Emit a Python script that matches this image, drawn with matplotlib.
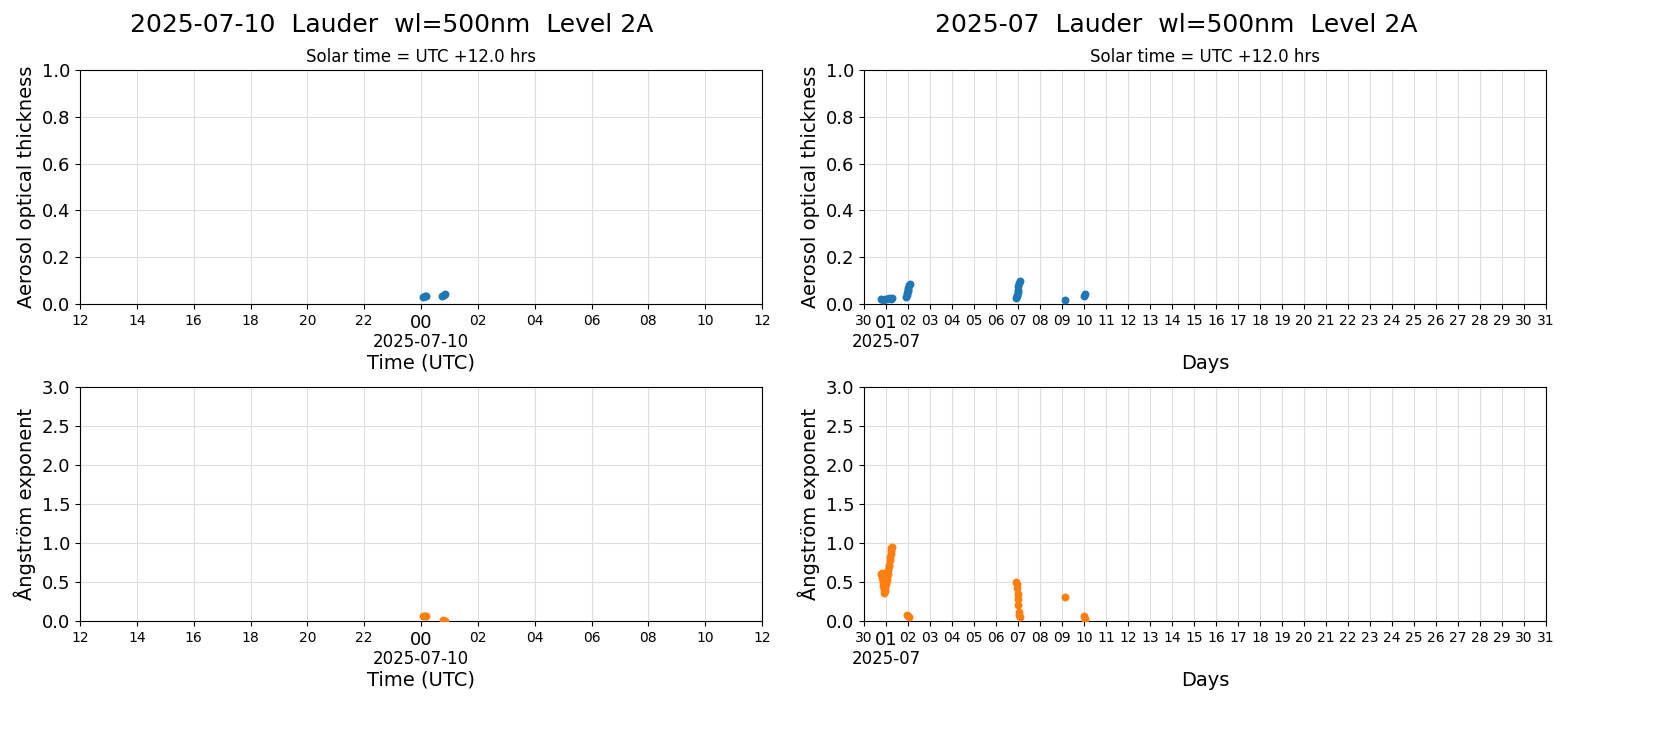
import numpy as np
import pandas as pd
import matplotlib
matplotlib.use('Agg')
import matplotlib.pyplot as plt

# ---- data ----
day_aod_time = ['2025-07-10 00:05', '2025-07-10 00:08', '2025-07-10 00:11',
                '2025-07-10 00:45', '2025-07-10 00:48', '2025-07-10 00:51']
day_aod = [0.030, 0.033, 0.035, 0.036, 0.039, 0.041]
day_ang_time = ['2025-07-10 00:05', '2025-07-10 00:08', '2025-07-10 00:11',
                '2025-07-10 00:46', '2025-07-10 00:50']
day_ang = [0.06, 0.07, 0.065, 0.01, 0.005]

mon_aod_time = ['2025-06-30 19:00', '2025-06-30 21:00', '2025-06-30 23:00',
                '2025-07-01 01:00', '2025-07-01 03:00', '2025-07-01 05:00', '2025-07-01 07:00',
                '2025-07-01 22:00', '2025-07-01 22:30', '2025-07-01 23:00', '2025-07-01 23:30',
                '2025-07-02 00:00', '2025-07-02 00:30', '2025-07-02 01:00', '2025-07-02 02:00',
                '2025-07-06 22:00', '2025-07-06 22:30', '2025-07-06 23:00', '2025-07-06 23:30',
                '2025-07-07 00:00', '2025-07-07 00:30', '2025-07-07 01:00', '2025-07-07 02:00',
                '2025-07-09 03:00',
                '2025-07-10 00:05', '2025-07-10 00:50']
mon_aod = [0.02, 0.018, 0.022, 0.02, 0.024, 0.022, 0.025,
           0.03, 0.038, 0.045, 0.055, 0.06, 0.07, 0.08, 0.085,
           0.025, 0.035, 0.04, 0.05, 0.06, 0.075, 0.09, 0.10,
           0.015,
           0.035, 0.041]
mon_ang_time = ['2025-06-30 19:00', '2025-06-30 19:30', '2025-06-30 20:00', '2025-06-30 20:30',
                '2025-06-30 21:00', '2025-06-30 21:30', '2025-06-30 22:00', '2025-06-30 22:30',
                '2025-06-30 23:00', '2025-06-30 23:30', '2025-07-01 00:00', '2025-07-01 00:30',
                '2025-07-01 01:00', '2025-07-01 01:30', '2025-07-01 02:00', '2025-07-01 02:30',
                '2025-07-01 03:00', '2025-07-01 03:30', '2025-07-01 04:00', '2025-07-01 04:30',
                '2025-07-01 05:00', '2025-07-01 05:30', '2025-07-01 06:00', '2025-07-01 06:30',
                '2025-07-01 23:00', '2025-07-02 00:00', '2025-07-02 01:00',
                '2025-07-06 22:00', '2025-07-06 22:30', '2025-07-06 23:00', '2025-07-06 23:30',
                '2025-07-07 00:00', '2025-07-07 00:30', '2025-07-07 01:00', '2025-07-07 01:30',
                '2025-07-07 02:00',
                '2025-07-09 03:00',
                '2025-07-10 00:05', '2025-07-10 00:50']
mon_ang = [0.6, 0.62, 0.55, 0.5, 0.45, 0.4, 0.36, 0.38, 0.42, 0.48, 0.5, 0.55,
           0.52, 0.58, 0.6, 0.65, 0.7, 0.72, 0.78, 0.82, 0.86, 0.9, 0.93, 0.95,
           0.08, 0.06, 0.05,
           0.5, 0.47, 0.42, 0.35, 0.28, 0.2, 0.12, 0.08, 0.05,
           0.31,
           0.07, 0.02]

C_AOD = '#1f77b4'
C_ANG = '#ff7f0e'

fig = plt.figure(figsize=(16.54, 7.37), dpi=100)
W, H = 1654, 737
def add_ax(x0, y0, x1, y1):
    return fig.add_axes([x0 / W, 1 - y1 / H, (x1 - x0) / W, (y1 - y0) / H])

ax_da = add_ax(80, 70, 762, 304)
ax_dn = add_ax(80, 387, 762, 621)
ax_ma = add_ax(864, 70, 1546, 304)
ax_mn = add_ax(864, 387, 1546, 621)

fig.text(392 / W, 1 - 25 / H, '2025-07-10  Lauder  wl=500nm  Level 2A', ha='center', va='center', fontsize=18)
fig.text(1176 / W, 1 - 25 / H, '2025-07  Lauder  wl=500nm  Level 2A', ha='center', va='center', fontsize=18)

def style(ax, ymax, ylabel):
    ax.set_ylim(0, ymax)
    ax.grid(True, color='#dddddd', linewidth=0.8)
    ax.set_axisbelow(True)
    ax.set_ylabel(ylabel, fontsize=14)
    ax.tick_params(axis='y', labelsize=13)

# day panels
d0 = pd.Timestamp('2025-07-09 12:00')
d1 = pd.Timestamp('2025-07-10 12:00')
dticks = pd.date_range(d0, d1, freq='2h')
for ax, t, v, c, ymax, yl in [(ax_da, day_aod_time, day_aod, C_AOD, 1.0, 'Aerosol optical thickness'),
                              (ax_dn, day_ang_time, day_ang, C_ANG, 3.0, 'Ångström exponent')]:
    ax.scatter(pd.to_datetime(t), v, s=22, color=c, zorder=3)
    ax.set_xlim(d0, d1)
    ax.set_xticks(dticks)
    ax.set_xticklabels([x.strftime('%H') for x in dticks])
    for lab, x in zip(ax.get_xticklabels(), dticks):
        lab.set_fontsize(13 if x.hour == 0 else 10)
    ax.annotate('2025-07-10', xy=(pd.Timestamp('2025-07-10'), 0), xycoords=('data', 'axes fraction'),
                xytext=(0, -21), textcoords='offset points', ha='center', va='top', fontsize=12)
    ax.set_xlabel('Time (UTC)', fontsize=14, labelpad=16)
    style(ax, ymax, yl)
ax_da.set_title('Solar time = UTC +12.0 hrs', fontsize=12)
ax_da.set_yticks(np.arange(0, 1.01, 0.2))
ax_dn.set_yticks(np.arange(0, 3.01, 0.5))

# month panels
m0 = pd.Timestamp('2025-06-30')
m1 = pd.Timestamp('2025-07-31')
mticks = pd.date_range(m0, m1, freq='D')
for ax, t, v, c, ymax, yl in [(ax_ma, mon_aod_time, mon_aod, C_AOD, 1.0, 'Aerosol optical thickness'),
                              (ax_mn, mon_ang_time, mon_ang, C_ANG, 3.0, 'Ångström exponent')]:
    ax.scatter(pd.to_datetime(t), v, s=22, color=c, zorder=3)
    ax.set_xlim(m0, m1)
    ax.set_xticks(mticks)
    ax.set_xticklabels([x.strftime('%d') for x in mticks])
    for lab, x in zip(ax.get_xticklabels(), mticks):
        lab.set_fontsize(13 if (x.day == 1) else 10)
    ax.annotate('2025-07', xy=(pd.Timestamp('2025-07-01'), 0), xycoords=('data', 'axes fraction'),
                xytext=(0, -21), textcoords='offset points', ha='center', va='top', fontsize=12)
    ax.set_xlabel('Days', fontsize=14, labelpad=16)
    style(ax, ymax, yl)
ax_ma.set_title('Solar time = UTC +12.0 hrs', fontsize=12)
ax_ma.set_yticks(np.arange(0, 1.01, 0.2))
ax_mn.set_yticks(np.arange(0, 3.01, 0.5))

fig.savefig('out.png', dpi=100)
